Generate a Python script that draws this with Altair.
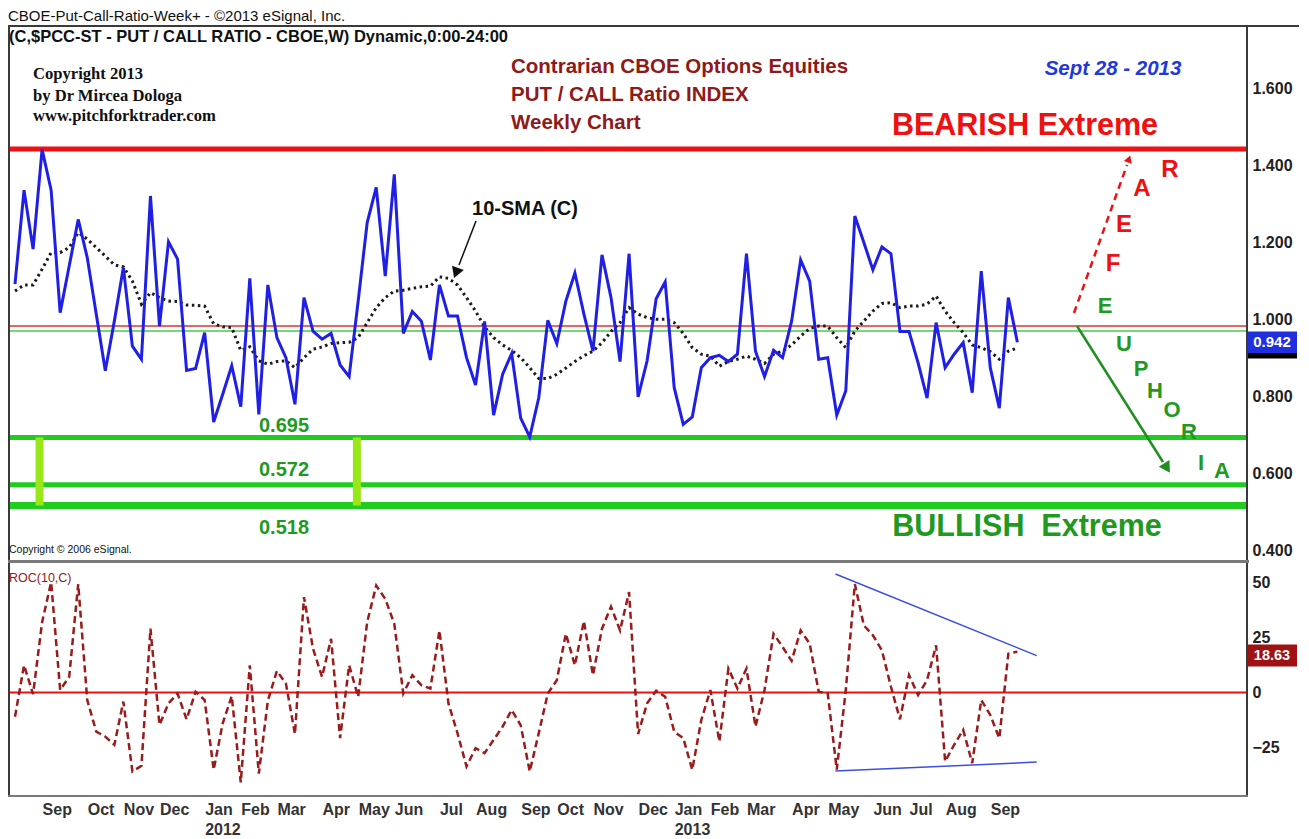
import altair as alt
import pandas as pd

# ---------------- data ----------------
start_date = "2011-08-12"  # first weekly bar (Friday)

pcr = [1.093, 1.337, 1.184, 1.443, 1.337, 1.019, 1.140, 1.261, 1.162, 1.015,
       0.868, 0.997, 1.136, 0.932, 0.898, 1.322, 0.984, 1.203, 1.158, 0.869,
       0.874, 0.967, 0.735, 0.807, 0.881, 0.775, 1.108, 0.755, 1.091, 0.954,
       0.902, 0.781, 1.058, 0.971, 0.950, 0.965, 0.883, 0.853, 1.049, 1.253,
       1.344, 1.114, 1.378, 0.965, 1.022, 0.997, 0.896, 1.091, 1.010, 1.010,
       0.902, 0.831, 0.996, 0.753, 0.859, 0.913, 0.745, 0.696, 0.798, 0.999,
       0.939, 1.049, 1.122, 1.015, 0.919, 1.169, 1.058, 0.892, 1.172, 0.800,
       0.894, 1.055, 1.099, 0.824, 0.729, 0.748, 0.876, 0.902, 0.908, 0.892,
       0.911, 1.172, 0.919, 0.853, 0.921, 0.902, 0.997, 1.156, 1.101, 0.898,
       0.902, 0.753, 0.816, 1.270, 1.201, 1.130, 1.190, 1.172, 0.970, 0.970,
       0.889, 0.797, 0.993, 0.876, 0.911, 0.941, 0.811, 1.127, 0.876, 0.771,
       1.058, 0.942]

sma10 = [1.075, 1.091, 1.091, 1.132, 1.175, 1.175, 1.188, 1.227, 1.210, 1.188,
         1.166, 1.143, 1.138, 1.101, 1.041, 1.071, 1.058, 1.049, 1.048, 1.039,
         1.038, 1.036, 0.990, 0.982, 0.980, 0.921, 0.930, 0.894, 0.885, 0.892,
         0.894, 0.876, 0.902, 0.924, 0.930, 0.939, 0.941, 0.942, 0.954, 0.993,
         1.032, 1.058, 1.075, 1.077, 1.082, 1.086, 1.088, 1.112, 1.108, 1.091,
         1.058, 1.023, 0.982, 0.954, 0.935, 0.921, 0.902, 0.876, 0.848, 0.848,
         0.859, 0.875, 0.892, 0.907, 0.919, 0.941, 0.970, 0.993, 1.032, 1.015,
         1.006, 1.002, 1.002, 0.993, 0.965, 0.928, 0.911, 0.906, 0.880, 0.892,
         0.898, 0.906, 0.898, 0.887, 0.911, 0.919, 0.935, 0.958, 0.978, 0.984,
         0.984, 0.954, 0.928, 0.971, 0.997, 1.023, 1.043, 1.045, 1.032, 1.036,
         1.036, 1.041, 1.062, 1.023, 0.993, 0.967, 0.935, 0.928, 0.918, 0.898,
         0.919, 0.927]

roc10 = [-11.1, 12.4, -0.8, 32.1, 50.3, 1.1, 7.1, 49.5, -3.5, -17.9,
         -20.2, -23.9, -4.2, -36.1, -33.5, 29.1, -14.8, -5.0, -0.5, -12.3,
         0.3, -3.5, -35.3, -14.1, -1.7, -41.1, 12.4, -37.1, -3.8, 9.8,
         4.1, -19.0, 43.5, 20.0, 7.1, 24.5, -20.9, 12.4, -2.0, 32.1,
         48.8, 42.7, 31.4, -0.5, 7.9, 3.3, 1.8, 28.3, -5.0, -18.6,
         -33.8, -25.5, -27.7, -21.7, -15.6, -8.0, -15.0, -36.1, -18.6, -0.5,
         5.6, 26.8, 12.4, 32.6, 7.9, 29.1, 39.2, 28.3, 45.8, -19.0,
         -5.0, 0.8, -2.0, -17.9, -20.9, -35.3, -12.6, 1.1, -22.4, 10.9,
         1.8, 10.9, -15.6, 1.1, 26.8, 20.8, 14.4, 28.3, 22.3, 0.3,
         -0.5, -35.3, 1.1, 49.5, 30.6, 26.1, 19.2, 2.6, -12.3, 7.9,
         -1.2, 5.6, 21.5, -31.5, -23.9, -17.1, -32.3, -3.5, -10.3, -20.9,
         17.7, 18.63]

month_ticks = ["2011-09-02", "2011-10-07", "2011-11-04", "2011-12-02",
               "2012-01-06", "2012-02-03", "2012-03-02", "2012-04-06", "2012-05-04",
               "2012-06-01", "2012-07-06", "2012-08-03", "2012-09-07", "2012-10-05",
               "2012-11-02", "2012-12-07", "2013-01-04", "2013-02-01", "2013-03-01",
               "2013-04-05", "2013-05-03", "2013-06-07", "2013-07-05", "2013-08-02",
               "2013-09-06"]
top_ticks = [0.4, 0.6, 0.8, 1.0, 1.2, 1.4, 1.6]
roc_ticks = [-25, 0, 25, 50]

level_values = [1.444, 0.984, 0.971, 0.695, 0.572, 0.518]
level_colors = ["#ee1111", "#dd3333", "#44cc44", "#1fcc1f", "#1fcc1f", "#1fcc1f"]
level_labels = ["0.695", "0.572", "0.518"]
marker_dates = ["2011-08-31", "2012-05-03"]

trend_from = ["2013-05-09", "2013-05-09"]
trend_to = ["2013-10-12", "2013-10-12"]
trend_from_val = [54.1, -35.9]
trend_to_val = [16.8, -31.8]

# ---------------- styling / layout ----------------
FONT = "Liberation Sans, Arial, Helvetica, sans-serif"
SERIF = "Liberation Serif, Times New Roman, serif"
W, H1, H2 = 1239, 537, 233
Y1_DOM = [0.3714, 1.766]
Y2_DOM = [-47.3, 59.1]
level_px = [5, 1.5, 1.5, 5, 5, 7]          # line thickness in pixels
PPU1 = H1 / (Y1_DOM[1] - Y1_DOM[0])        # pixels per unit, upper panel
PPU2 = H2 / (Y2_DOM[1] - Y2_DOM[0])        # pixels per unit, lower panel
FRAME = "#3a3a3a"


def dt(s, h=0, m=0):
    y, mo, d = (int(p) for p in s.split("-"))
    return alt.DateTime(year=y, month=mo, date=d, hours=h, minutes=m)


dates = pd.date_range(start_date, periods=len(pcr), freq="7D")
df = pd.DataFrame({"date": dates, "pcr": pcr, "sma": sma10, "roc": roc10})
one = pd.DataFrame({"k": [0]})

xsc = alt.Scale(domain=[dt("2011-08-06", 13, 40), dt("2014-03-24")])
ysc1 = alt.Scale(domain=Y1_DOM, nice=False, zero=False)
ysc2 = alt.Scale(domain=Y2_DOM, nice=False, zero=False)

yax1 = alt.Axis(orient="right", values=top_ticks, format=".3f", title=None,
                ticks=False, domain=False, grid=False, labelFont=FONT,
                labelFontSize=16, labelFontWeight="bold", labelColor="#222",
                labelPadding=5)
yax2 = alt.Axis(orient="right", values=roc_ticks, format="d", title=None,
                ticks=False, domain=False, grid=False, labelFont=FONT,
                labelFontSize=16, labelFontWeight="bold", labelColor="#222",
                labelPadding=5)
xax2 = alt.Axis(values=[dt(s) for s in month_ticks], title=None, ticks=False,
                domain=False, grid=False, labelAlign="left", labelBaseline="top",
                labelFlush=False, labelOverlap=False, labelFont=FONT,
                labelFontSize=16, labelFontWeight="bold", labelColor="#333",
                labelPadding=5, labelLineHeight=20,
                labelExpr="month(datum.value) == 0 ? [timeFormat(datum.value, '%b'), "
                          "timeFormat(datum.value, '%Y')] : timeFormat(datum.value, '%b')")

X1 = alt.X("date:T", scale=xsc, axis=None)
X2 = alt.X("date:T", scale=xsc, axis=xax2)


def label(text, x, y, size, color, weight="bold", align="left", font=FONT, style="normal"):
    return alt.Chart(one).mark_text(
        text=text, fontSize=size, color=color, fontWeight=weight, align=align,
        baseline="middle", font=font, fontStyle=style
    ).encode(x=alt.value(x), y=alt.value(y))


def seg(x1, y1, x2, y2, color, width, dash=None):
    kw = dict(color=color, strokeWidth=width)
    if dash:
        kw["strokeDash"] = dash
    return alt.Chart(one).mark_rule(**kw).encode(
        x=alt.value(x1), y=alt.value(y1), x2=alt.value(x2), y2=alt.value(y2))


def box(x1, x2, y1, y2, color):
    return alt.Chart(one).mark_rect(color=color).encode(
        x=alt.value(x1), x2=alt.value(x2), y=alt.value(y1), y2=alt.value(y2))


def head(x, y, angle, color, size):
    return alt.Chart(one).mark_point(shape="triangle-up", filled=True, color=color,
                                     size=size, angle=angle, opacity=1).encode(
        x=alt.value(x), y=alt.value(y))


def hband(value, px, color, scale, axis, ppu):
    half = px / 2 / ppu
    return alt.Chart(one).mark_rect(color=color).encode(
        x=alt.value(0), x2=alt.value(W),
        y=alt.Y(datum=value + half, scale=scale, axis=axis),
        y2=alt.Y2(datum=value - half))


# ---------------- upper panel ----------------
levels = [hband(v, p, c, ysc1, yax1, PPU1)
          for v, p, c in zip(level_values, level_px, level_colors)]

mk_df = pd.DataFrame({"d": pd.to_datetime(marker_dates),
                      "lo": level_values[5], "hi": level_values[3]})
markers = alt.Chart(mk_df).mark_rule(color="#99e619", strokeWidth=8).encode(
    x=alt.X("d:T", scale=xsc, axis=None),
    y=alt.Y("lo:Q", scale=ysc1, axis=yax1), y2="hi:Q")

sma_line = alt.Chart(df).mark_line(color="#1a1a1a", strokeWidth=3,
                                   strokeDash=[2.5, 3.5]).encode(
    x=X1, y=alt.Y("sma:Q", scale=ysc1, axis=yax1))
pcr_line = alt.Chart(df).mark_line(color="#1f1fe6", strokeWidth=3).encode(
    x=X1, y=alt.Y("pcr:Q", scale=ysc1, axis=yax1))

# price-scale badges: SMA (black, mostly hidden) under the last close (blue)
sma_badge = alt.Chart(one).mark_rect(color="#000000").encode(
    x=alt.value(W + 1), x2=alt.value(W + 50),
    y=alt.Y(datum=sma10[-1] + 0.027, scale=ysc1, axis=yax1),
    y2=alt.Y2(datum=sma10[-1] - 0.027))
pcr_badge = alt.Chart(one).mark_rect(color="#1f2fe0").encode(
    x=alt.value(W + 1), x2=alt.value(W + 50),
    y=alt.Y(datum=pcr[-1] + 0.028, scale=ysc1, axis=yax1),
    y2=alt.Y2(datum=pcr[-1] - 0.028))
pcr_badge_txt = alt.Chart(one).mark_text(
    text=f"{pcr[-1]:.3f}", color="white", fontSize=15, fontWeight="bold", font=FONT,
    align="center", baseline="middle").encode(
    x=alt.value(W + 25), y=alt.Y(datum=pcr[-1], scale=ysc1, axis=yax1))

DR = "#8e1a1a"
GR = "#1f9a1f"
top_layers = levels + [
    markers, sma_line, pcr_line,
    # frame
    box(0, W + 52, 0, 2, FRAME),
    box(0, 2, 0, H1, FRAME),
    box(W - 1, W + 1, 0, H1, FRAME),
    box(0, W + 2, H1 - 2, H1 + 1, "#7a7a7a"),
    # texts
    label("(C,$PCC-ST - PUT / CALL RATIO - CBOE,W) Dynamic,0:00-24:00", 1, 12, 16.5, "#111"),
    label("Copyright 2013", 25, 49, 16.6, "#111", font=SERIF),
    label("by Dr Mircea Dologa", 25, 71, 16.6, "#111", font=SERIF),
    label("www.pitchforktrader.com", 25, 91, 16.6, "#111", font=SERIF),
    label("Contrarian CBOE Options Equities", 503, 42, 20.5, DR),
    label("PUT / CALL Ratio INDEX", 503, 70, 20.5, DR),
    label("Weekly Chart", 503, 98, 20.5, DR),
    label("Sept 28 - 2013", 1105, 44, 20.5, "#1f3ad8", align="center", style="italic"),
    label("BEARISH Extreme", 1017, 101, 30.5, "#ee1111", align="center"),
    label("BULLISH\u00a0 Extreme", 1019, 502, 30.5, GR, align="center"),
    label(level_labels[0], 276, 401, 20, GR, align="center"),
    label(level_labels[1], 276, 445, 20, GR, align="center"),
    label(level_labels[2], 276, 503, 20, GR, align="center"),
    label("Copyright \u00a9 2006 eSignal.", 1, 525, 10.5, "#111", weight="normal"),
    label("10-SMA (C)", 517, 184, 20, "#111", align="center"),
    seg(468, 196, 451, 240, "#111", 1.5),
    head(448, 248, 200.7, "#111", 160),
    # FEAR (red, upward dashed arrow)
    seg(1066, 288, 1119, 140, "#ee1111", 2.5, dash=[7, 5]),
    head(1121, 134, 19.5, "#ee1111", 70),
    label("F", 1105, 239, 24, "#ee1111", align="center"),
    label("E", 1116, 200, 24, "#ee1111", align="center"),
    label("A", 1134, 164, 24, "#ee1111", align="center"),
    label("R", 1162, 145, 24, "#ee1111", align="center"),
    # EUPHORIA (green, downward arrow)
    seg(1069, 301, 1155, 437, "#1f8f1f", 2.5),
    head(1159, 443, 148, "#1f8f1f", 160),
    label("E", 1097, 281, 22, GR, align="center"),
    label("U", 1116, 319, 22, GR, align="center"),
    label("P", 1133, 344, 22, GR, align="center"),
    label("H", 1147, 366, 22, GR, align="center"),
    label("O", 1164, 385, 22, GR, align="center"),
    label("R", 1181, 407, 22, GR, align="center"),
    label("I", 1193, 438, 22, GR, align="center"),
    label("A", 1214, 446, 22, GR, align="center"),
    sma_badge, pcr_badge, pcr_badge_txt,
]
top = alt.layer(*top_layers).properties(width=W, height=H1)

# ---------------- lower panel (ROC) ----------------
zero = hband(0, 2, "#ee1111", ysc2, yax2, PPU2)
roc_line = alt.Chart(df).mark_line(color="#9a1b1b", strokeWidth=2.5,
                                   strokeDash=[7, 4]).encode(
    x=X2, y=alt.Y("roc:Q", scale=ysc2, axis=yax2))
tr_df = pd.DataFrame({"d1": pd.to_datetime(trend_from), "d2": pd.to_datetime(trend_to),
                      "v1": trend_from_val, "v2": trend_to_val})
trend = alt.Chart(tr_df).mark_rule(color="#3b4fe0", strokeWidth=1.5).encode(
    x=alt.X("d1:T", scale=xsc, axis=xax2), x2="d2:T",
    y=alt.Y("v1:Q", scale=ysc2, axis=yax2), y2="v2:Q")

roc_badge = alt.Chart(one).mark_rect(color="#a01212").encode(
    x=alt.value(W + 1), x2=alt.value(W + 50),
    y=alt.Y(datum=roc10[-1] + 3.2, scale=ysc2, axis=yax2),
    y2=alt.Y2(datum=roc10[-1] - 6.8))
roc_badge_txt = alt.Chart(one).mark_text(
    text=f"{roc10[-1]:.2f}", color="white", fontSize=14.5, fontWeight="bold", font=FONT,
    align="center", baseline="middle").encode(
    x=alt.value(W + 25), y=alt.Y(datum=roc10[-1] - 1.8, scale=ysc2, axis=yax2))

bottom = alt.layer(
    zero, trend, roc_line,
    box(0, 2, 0, H2, FRAME),
    box(W - 1, W + 1, 0, H2, FRAME),
    box(0, W + 1, H2 - 1, H2 + 1, "#7a7a7a"),
    label("ROC(10,C)", 1, 15, 12.5, DR, weight="normal"),
    roc_badge, roc_badge_txt,
).properties(width=W, height=H2)

chart = alt.vconcat(top, bottom, spacing=0).properties(
    title=alt.TitleParams("CBOE-Put-Call-Ratio-Week+ - \u00a92013 eSignal, Inc.",
                          anchor="start", fontSize=15, fontWeight="normal", font=FONT,
                          color="#111", offset=1),
    padding={"top": 1, "left": 0, "right": 0, "bottom": 0}, background="white",
).configure_view(stroke=None)

chart.save("out.html", embed_options={"renderer": "svg", "actions": False})
